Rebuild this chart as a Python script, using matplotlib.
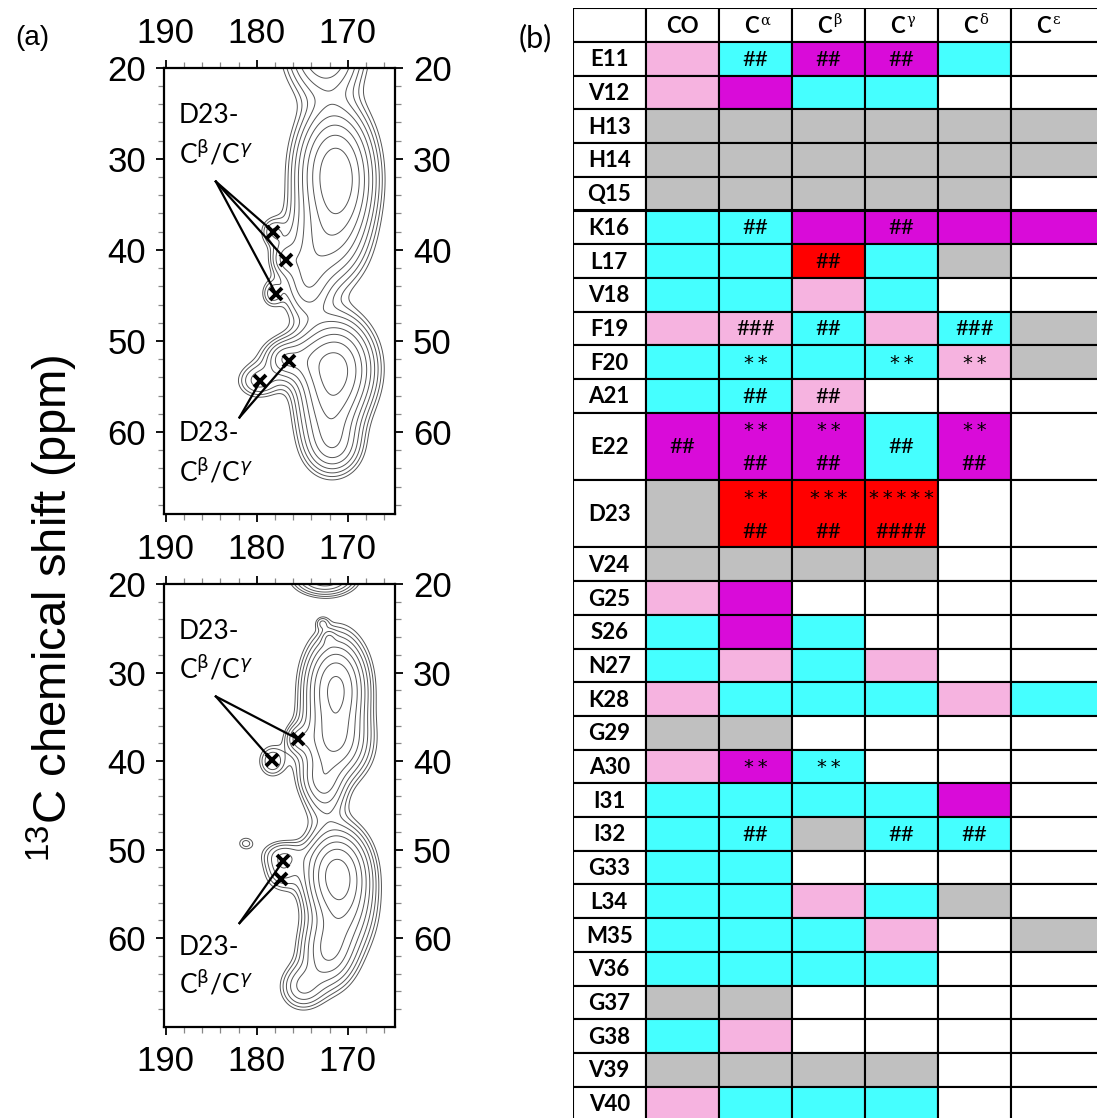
import numpy as np
import matplotlib
matplotlib.use("Agg")
import matplotlib.pyplot as plt
from matplotlib.patches import Rectangle

# ---------------- Panel (a): spectra peak models -------------
# each peak: x-centre (ppm), y-centre (ppm), x-width, y-width, amplitude
top_px = [172.5, 171.5, 172.8, 174.5, 178.2, 177.0, 178.3, 171.3, 172.0, 171.5, 175.8, 179.8, 177.0, 170.5]
top_py = [18.0, 31.5, 39.5, 44.0, 38.0, 41.0, 44.8, 53.0, 58.5, 61.8, 52.0, 54.4, 52.0, 34.0]
top_sx = [2.4, 2.3, 2.6, 1.6, 0.9, 1.0, 0.8, 2.3, 2.0, 1.8, 2.3, 1.5, 1.0, 2.0]
top_sy = [3.0, 4.0, 3.0, 2.5, 1.0, 1.2, 1.0, 3.0, 3.0, 1.8, 1.6, 1.2, 1.0, 4.0]
top_amp = [0.55, 1.0, 0.35, 0.25, 0.15, 0.18, 0.15, 1.0, 0.45, 0.22, 0.3, 0.2, 0.2, 0.3]

bot_px = [172.5, 171.3, 171.5, 172.5, 178.3, 175.5, 173.0, 172.8, 172.1, 171.2, 172.2, 175.0, 177.2, 181.2, 177.0, 170.5]
bot_py = [19.2, 31.8, 38.0, 44.0, 40.0, 37.5, 42.0, 24.4, 26.0, 52.6, 61.6, 65.5, 52.3, 49.3, 50.5, 57.0]
bot_sx = [2.0, 1.9, 2.2, 1.5, 1.0, 0.9, 1.5, 0.5, 0.5, 2.0, 1.8, 1.5, 1.3, 0.7, 1.6, 2.0]
bot_sy = [1.2, 3.2, 2.5, 2.0, 1.2, 1.0, 1.5, 0.5, 0.6, 2.8, 2.5, 1.6, 1.5, 0.6, 1.0, 3.0]
bot_amp = [0.5, 1.0, 0.6, 0.2, 0.18, 0.2, 0.2, 0.1, 0.1, 1.0, 0.45, 0.25, 0.2, 0.11, 0.15, 0.4]

top_marks_x = [178.2, 176.8, 177.9, 179.6, 176.5]
top_marks_y = [38.0, 41.1, 44.8, 54.4, 52.2]
top_mark_grp = [0, 0, 0, 1, 1]
bot_marks_x = [175.5, 178.35, 177.1, 177.3]
bot_marks_y = [37.5, 39.9, 51.3, 53.3]
bot_mark_grp = [0, 0, 1, 1]
top_anchor_x = [184.5, 181.9]
top_anchor_y = [32.5, 58.4]
bot_anchor_x = [184.5, 181.9]
bot_anchor_y = [32.7, 58.3]
top_label_y = [25.2, 60.2]
bot_label_y = [25.4, 61.0]

x_ticks = [190, 180, 170]
y_ticks = [20, 30, 40, 50, 60]

# ---------------- Panel (b): table -------------
columns = ["CO", "C", "C", "C", "C", "C"]
col_sup = ["", "\u03b1", "\u03b2", "\u03b3", "\u03b4", "\u03b5"]
residues = ["E11", "V12", "H13", "H14", "Q15", "K16", "L17", "V18", "F19", "F20",
            "A21", "E22", "D23", "V24", "G25", "S26", "N27", "K28", "G29", "A30",
            "I31", "I32", "G33", "L34", "M35", "V36", "G37", "G38", "V39", "V40"]
row_span = [1, 1, 1, 1, 1, 1, 1, 1, 1, 1,
            1, 2, 2, 1, 1, 1, 1, 1, 1, 1,
            1, 1, 1, 1, 1, 1, 1, 1, 1, 1]
cell_colors = ["PCMMCW", "PMCCWW", "GGGGGG", "GGGGGG", "GGGGGW", "CCMMMM",
               "CCRCGW", "CCPCWW", "PPCPCG", "CCCCPG", "CCPWWW", "MMMCMW",
               "GRRRWW", "GGGGWW", "PMWWWW", "CMCWWW", "CPCPWW", "PCCCPC",
               "GGWWWW", "PMCWWW", "CCCCMW", "CCGCCW", "CCWWWW", "CCPCGW",
               "CCCPWG", "CCCCWW", "GGWWWW", "CPWWWW", "GGGGWW", "PCCCWW"]
cell_notes = {
    "E11": ["", "##", "##", "##", "", ""],
    "K16": ["", "##", "", "##", "", ""],
    "L17": ["", "", "##", "", "", ""],
    "F19": ["", "###", "##", "", "###", ""],
    "F20": ["", "**", "", "**", "**", ""],
    "A21": ["", "##", "##", "", "", ""],
    "E22": ["##", "**/##", "**/##", "##", "**/##", ""],
    "D23": ["", "**/##", "***/##", "*****/####", "", ""],
    "A30": ["", "**", "**", "", "", ""],
    "I32": ["", "##", "", "##", "##", ""],
}
palette = {"P": "#F6B3E0", "C": "#45FFFF", "M": "#D90BD9", "R": "#FF0000",
           "G": "#C0C0C0", "W": "#FFFFFF"}

# ---------------- figure -------------
W, H = 1097, 1118
fig = plt.figure(figsize=(W / 100, H / 100), dpi=100)


def fx(px):
    return px / W


def fy(py):
    return 1 - py / H


def model(px, py, sx, sy, amp, X, Y):
    Z = np.zeros_like(X)
    for a, b, c, d, e in zip(px, py, sx, sy, amp):
        Z += e * np.exp(-0.5 * (((X - a) / c) ** 2 + ((Y - b) / d) ** 2))
    return Z


xg = np.linspace(163, 192, 400)
yg = np.linspace(14, 73, 800)
X, Y = np.meshgrid(xg, yg)
levels = 0.07 * 1.38 ** np.arange(0, 10)

ann_font = dict(family=["Lato", "DejaVu Sans"], size=19)


def spectrum(rect, px, py, sx, sy, amp, mx, my, grp, ax_, ay_, lab_y, ylim,
             top_labels, bottom_labels):
    ax = fig.add_axes(rect)
    Z = model(px, py, sx, sy, amp, X, Y)
    ax.contour(X, Y, Z, levels=levels, colors="#555555", linewidths=0.7)
    ax.set_xlim(190.2, 164.8)
    ax.set_ylim(ylim, 20)
    ax.set_xticks(x_ticks)
    ax.set_yticks(y_ticks)
    ax.set_xticks(np.arange(166, 191, 2), minor=True)
    ax.set_yticks(np.arange(20, ylim, 2), minor=True)
    ax.tick_params(which="major", direction="out", length=6, width=1.3,
                   top=True, right=True, left=True, bottom=True,
                   labeltop=top_labels, labelbottom=bottom_labels,
                   labelleft=True, labelright=True, pad=7)
    ax.tick_params(which="minor", direction="out", length=4, width=0.9,
                   color="#888888", top=True, right=True)
    for lab in ax.get_xticklabels() + ax.get_yticklabels():
        lab.set_fontfamily("Liberation Sans")
        lab.set_fontsize(25)
    for s in ax.spines.values():
        s.set_linewidth(1.6)
    for g in range(2):
        for x, y, gg in zip(mx, my, grp):
            if gg == g:
                ax.plot([ax_[g], x], [ay_[g], y], color="black", lw=1.6)
    ax.plot(mx, my, ls="none", marker="x", ms=9, mew=2.8, color="black")
    for g in range(2):
        ax.text(188.6, lab_y[g], "D23-", ha="left", va="center", **ann_font)
        ax.text(188.6, lab_y[g] + 4.2,
                r"C$^{\mathrm{\beta}}$/C$^{\gamma}$", ha="left", va="center",
                **ann_font)
    return ax


spectrum([fx(164), fy(514), fx(395 - 164), (514 - 67.7) / H],
         top_px, top_py, top_sx, top_sy, top_amp,
         top_marks_x, top_marks_y, top_mark_grp, top_anchor_x, top_anchor_y,
         top_label_y, 69, True, False)
spectrum([fx(164), fy(1026.7), fx(395 - 164), (1026.7 - 584) / H],
         bot_px, bot_py, bot_sx, bot_sy, bot_amp,
         bot_marks_x, bot_marks_y, bot_mark_grp, bot_anchor_x, bot_anchor_y,
         bot_label_y, 70, True, True)

fig.text(fx(52), fy(608), r"$^{\mathregular{13}}$C chemical shift (ppm)",
         rotation=90, ha="center", va="center", family="Liberation Sans",
         size=34)
fig.text(fx(32), fy(38), "(a)", ha="center", va="center",
         family="Liberation Sans", size=20)
fig.text(fx(535), fy(38), "(b)", ha="center", va="center",
         family="Lato", size=22)

# ---------------- table -------------
cw = 73.1
rh = 33.7
tx0, ty0 = 572.7, 8.3
tw = (W - tx0) / cw
th = (H - ty0) / rh
tax = fig.add_axes([fx(tx0), 0, fx(W - tx0), (H - ty0) / H])
tax.set_xlim(0, tw)
tax.set_ylim(th, 0)
tax.axis("off")
lw = 1.5
lab_size = 16
note_size = 16


def cell(x, y, w, h, fc):
    tax.add_patch(Rectangle((x, y), w, h, facecolor=fc, edgecolor="black",
                            lw=lw, clip_on=True))


def note(x, y, s):
    if "*" in s:
        tax.text(x, y + 0.04, "\u2009".join(s), ha="center", va="center",
                 family="DejaVu Sans", size=14)
    else:
        tax.text(x, y + 0.03, s, ha="center", va="center",
                 family="Lato", size=note_size)


ncol = len(columns)
# header
cell(0, 0, 1, 1, "white")
for j in range(ncol):
    wdt = 1 if j < ncol - 1 else tw - ncol + 0.5
    cell(j + 1, 0, wdt, 1, "white")
    if col_sup[j]:
        tax.text(j + 1.44, 0.55, columns[j], ha="center", va="center",
                 family="Lato", weight="bold", size=lab_size)
        tax.text(j + 1.56, 0.36, col_sup[j], ha="left", va="center",
                 family="DejaVu Serif", size=10.5)
    else:
        tax.text(j + 1.5, 0.55, columns[j], ha="center", va="center",
                 family="Lato", weight="bold", size=lab_size)

yc = 1
for i, res in enumerate(residues):
    h = row_span[i]
    cell(0, yc, 1, h, "white")
    tax.text(0.5, yc + h / 2 + 0.03, res, ha="center", va="center",
             family="Lato", weight="bold", size=lab_size)
    notes = cell_notes.get(res, [""] * ncol)
    for j in range(ncol):
        wdt = 1 if j < ncol - 1 else tw - ncol + 0.5
        cell(j + 1, yc, wdt, h, palette[cell_colors[i][j]])
        n = notes[j]
        if not n:
            continue
        parts = n.split("/")
        if len(parts) == 2:
            note(j + 1.5, yc + 0.5, parts[0])
            note(j + 1.5, yc + 1.5, parts[1])
        else:
            note(j + 1.5, yc + h / 2, n)
    yc += h

fig.savefig("out.png", dpi=100)
